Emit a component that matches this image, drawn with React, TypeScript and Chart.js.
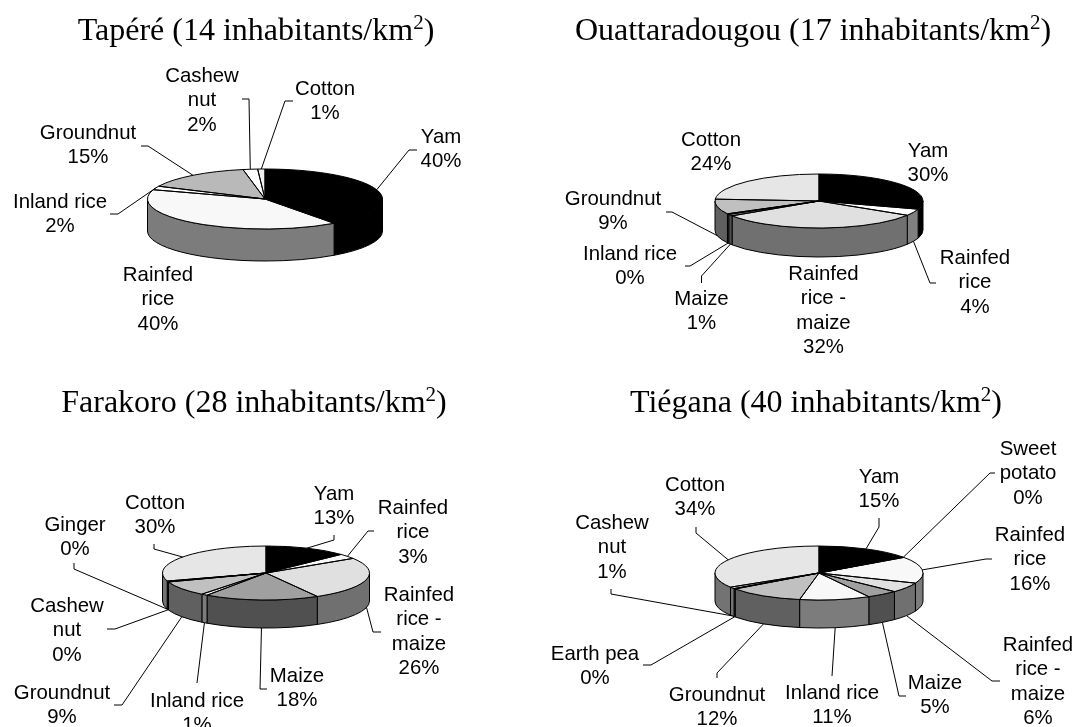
import React, { useEffect, useRef } from "react";
import { Chart, registerables } from "chart.js";

Chart.register(...registerables);

// ---- data ----
const tapereLabels = ["Yam", "Rainfed\nrice", "Inland rice", "Groundnut", "Cashew\nnut", "Cotton"];
const tapereValues = [40, 40, 2, 15, 2, 1];
const tapereColors = ["#000000", "#f8f8f8", "#ffffff", "#b9b9b9", "#ffffff", "#f0f0f0"];

const ouattLabels = ["Yam", "Rainfed\nrice", "Rainfed\nrice -\nmaize", "Maize", "Inland rice", "Groundnut", "Cotton"];
const ouattValues = [30, 4, 32, 1, 0.4, 9, 24];
const ouattColors = ["#000000", "#ffffff", "#e0e0e0", "#9a9a9a", "#f0f0f0", "#c0c0c0", "#e6e6e6"];

const farakoroLabels = ["Yam", "Rainfed\nrice", "Rainfed\nrice -\nmaize", "Maize", "Inland rice", "Groundnut", "Cashew\nnut", "Ginger", "Cotton"];
const farakoroValues = [13, 3, 26, 18, 1, 9, 0.3, 0.3, 30];
const farakoroColors = ["#000000", "#f8f8f8", "#e0e0e0", "#a0a0a0", "#f8f8f8", "#c0c0c0", "#eeeeee", "#999999", "#e6e6e6"];

const tieganaLabels = ["Yam", "Sweet\npotato", "Rainfed\nrice", "Rainfed\nrice -\nmaize", "Maize", "Inland rice", "Groundnut", "Earth pea", "Cashew\nnut", "Cotton"];
const tieganaValues = [15, 0.3, 16, 6, 5, 11, 12, 0.3, 1, 34];
const tieganaColors = ["#000000", "#555555", "#f8f8f8", "#e0e0e0", "#a0a0a0", "#f8f8f8", "#c0c0c0", "#999999", "#e6e6e6", "#e6e6e6"];

// ---- layout (page pixels): label centre [x, first-line y], optional leader [elbowX, elbowY, endX, endY] ----
type Place = { at: [number, number]; leader?: [number, number, number, number] };

const panels = [
  {
    title: "Tapéré (14 inhabitants/km", titleX: 256, titleY: 40,
    box: [0, 0, 530, 364], cx: 265, cy: 199, rx: 117.5, ry: 30, depth: 32,
    labels: tapereLabels, values: tapereValues, colors: tapereColors,
    places: [
      { at: [441, 137], leader: [409, 150, 417, 150] },
      { at: [158, 275] },
      { at: [60, 202], leader: [118, 214, 110, 214] },
      { at: [88, 133], leader: [148, 146, 141, 146] },
      { at: [202, 76], leader: [249, 99, 242, 99] },
      { at: [325, 89], leader: [285, 101, 293, 101] },
    ] as Place[],
  },
  {
    title: "Ouattaradougou (17 inhabitants/km", titleX: 813, titleY: 40,
    box: [530, 0, 547, 364], cx: 819, cy: 201, rx: 104, ry: 27, depth: 29,
    labels: ouattLabels, values: ouattValues, colors: ouattColors,
    places: [
      { at: [928, 151] },
      { at: [975, 258], leader: [930, 283, 936, 283] },
      { at: [823.5, 274] },
      { at: [701.5, 299], leader: [701.5, 276, 701.5, 283] },
      { at: [630, 254], leader: [690, 266, 685, 266] },
      { at: [613, 199], leader: [672, 212, 666, 212] },
      { at: [711, 140] },
    ] as Place[],
  },
  {
    title: "Farakoro (28 inhabitants/km", titleX: 254, titleY: 412,
    box: [0, 364, 530, 363], cx: 266, cy: 573, rx: 103.5, ry: 27, depth: 28,
    labels: farakoroLabels, values: farakoroValues, colors: farakoroColors,
    places: [
      { at: [334, 494], leader: [334, 540, 334, 535] },
      { at: [413, 508], leader: [368, 531, 374, 531] },
      { at: [419, 595], leader: [373, 632, 381, 632] },
      { at: [297, 676], leader: [260, 689, 267, 689] },
      { at: [197, 701], leader: [197, 683, 197, 683] },
      { at: [62, 693], leader: [122, 705, 114, 705] },
      { at: [67, 606], leader: [115, 629, 107, 629] },
      { at: [75, 525], leader: [74, 569, 74, 563] },
      { at: [155, 503], leader: [154, 549, 154, 544] },
    ] as Place[],
  },
  {
    title: "Tiégana (40 inhabitants/km", titleX: 816, titleY: 412,
    box: [530, 364, 547, 363], cx: 819, cy: 573, rx: 104, ry: 27, depth: 28,
    labels: tieganaLabels, values: tieganaValues, colors: tieganaColors,
    places: [
      { at: [879, 477], leader: [879, 527, 879, 518] },
      { at: [1028, 449], leader: [990, 473, 995, 473] },
      { at: [1030, 535], leader: [986, 559, 992, 559] },
      { at: [1038, 645], leader: [992, 681, 1000, 681] },
      { at: [935, 683], leader: [899, 696, 906, 696] },
      { at: [832, 693], leader: [832, 676, 832, 676] },
      { at: [717, 695], leader: [717, 673, 717, 678] },
      { at: [595, 654], leader: [651, 665, 643, 665] },
      { at: [612, 523], leader: [611, 594, 611, 589] },
      { at: [695, 485], leader: [696, 533, 696, 527] },
    ] as Place[],
  },
];

const LABEL_FONT = '20.4px "Liberation Sans"';
const TITLE_FONT = '32px "Liberation Serif"';
const SUP_FONT = '21px "Liberation Serif"';
const LINE_H = 24.5;

function darker(hex: string) {
  const n = parseInt(hex.slice(1), 16);
  const h = (v: number) => Math.round(v / 2).toString(16).padStart(2, "0");
  return "#" + h((n >> 16) & 255) + h((n >> 8) & 255) + h(n & 255);
}

type Panel = (typeof panels)[number];

function pie3d(p: Panel) {
  const [ox, oy] = p.box;
  const cx = p.cx - ox;
  const cy = p.cy - oy;
  return {
    id: "pie3d",
    beforeDatasetsDraw(chart: any) {
      const ctx = chart.ctx;
      const arcs = chart.getDatasetMeta(0).data;
      const midY = arcs[0].y;
      // side walls, front half only
      arcs.forEach((a: any, i: number) => {
        const s = Math.max(a.startAngle, 0);
        const e = Math.min(a.endAngle, Math.PI);
        if (e <= s) return;
        ctx.beginPath();
        ctx.ellipse(cx, cy, p.rx, p.ry, 0, s, e);
        ctx.lineTo(cx + p.rx * Math.cos(e), cy + p.ry * Math.sin(e) + p.depth);
        ctx.ellipse(cx, cy + p.depth, p.rx, p.ry, 0, e, s, true);
        ctx.closePath();
        ctx.fillStyle = darker(p.colors[i]);
        ctx.fill();
        ctx.strokeStyle = "#000";
        ctx.lineWidth = 1;
        ctx.stroke();
      });
      // flatten the library's own arcs
      ctx.save();
      ctx.translate(0, cy);
      ctx.scale(1, p.ry / p.rx);
      ctx.translate(0, -midY);
    },
    afterDatasetsDraw(chart: any) {
      const ctx = chart.ctx;
      ctx.restore();
      const arcs = chart.getDatasetMeta(0).data;
      ctx.strokeStyle = "#000";
      ctx.lineWidth = 1;
      arcs.forEach((a: any) => {
        ctx.beginPath();
        ctx.moveTo(cx, cy);
        ctx.ellipse(cx, cy, p.rx, p.ry, 0, a.startAngle, a.endAngle);
        ctx.closePath();
        ctx.stroke();
      });
      // leaders and labels
      ctx.fillStyle = "#000";
      ctx.textAlign = "center";
      ctx.textBaseline = "middle";
      ctx.font = LABEL_FONT;
      arcs.forEach((a: any, i: number) => {
        const place = p.places[i];
        if (place.leader) {
          const mid = (a.startAngle + a.endAngle) / 2;
          const sx = cx + p.rx * Math.cos(mid);
          let sy = cy + p.ry * Math.sin(mid);
          if (Math.sin(mid) > 0) sy += p.depth;
          const [ex, ey, fx, fy] = place.leader;
          ctx.beginPath();
          ctx.moveTo(sx, sy);
          ctx.lineTo(ex - ox, ey - oy);
          ctx.lineTo(fx - ox, fy - oy);
          ctx.stroke();
        }
        const lines = [...p.labels[i].split("\n"), Math.round(p.values[i]) + "%"];
        lines.forEach((t, k) => ctx.fillText(t, place.at[0] - ox, place.at[1] - oy + k * LINE_H));
      });
      // title with superscript
      ctx.textAlign = "left";
      ctx.textBaseline = "alphabetic";
      ctx.font = TITLE_FONT;
      const w1 = ctx.measureText(p.title).width;
      const w3 = ctx.measureText(")").width;
      ctx.font = SUP_FONT;
      const w2 = ctx.measureText("2").width;
      let x = p.titleX - ox - (w1 + w2 + w3) / 2;
      const y = p.titleY - oy;
      ctx.font = TITLE_FONT;
      ctx.fillText(p.title, x, y);
      x += w1;
      ctx.font = SUP_FONT;
      ctx.fillText("2", x, y - 11);
      x += w2;
      ctx.font = TITLE_FONT;
      ctx.fillText(")", x, y);
    },
  };
}

function PieCanvas({ panel }: { panel: Panel }) {
  const ref = useRef<HTMLCanvasElement>(null);
  useEffect(() => {
    const [ox, oy, w, h] = panel.box;
    const chart = new Chart(ref.current!, {
      type: "pie",
      data: {
        labels: panel.labels.map((l) => l.replace(/\n/g, " ")),
        datasets: [{ data: panel.values, backgroundColor: panel.colors, borderWidth: 0 }],
      },
      options: {
        responsive: false,
        animation: false,
        events: [],
        layout: {
          padding: {
            left: panel.cx - ox - panel.rx,
            right: w - (panel.cx - ox) - panel.rx,
            top: (h - 2 * panel.rx) / 2,
            bottom: (h - 2 * panel.rx) / 2,
          },
        },
        plugins: { legend: { display: false }, tooltip: { enabled: false }, title: { display: false } },
      },
      plugins: [pie3d(panel)],
    } as any);
    return () => chart.destroy();
  }, [panel]);
  const [ox, oy, w, h] = panel.box;
  return (
    <canvas
      ref={ref}
      width={w}
      height={h}
      style={{ position: "absolute", left: ox, top: oy, width: w, height: h }}
    />
  );
}

export default function App() {
  return (
    <div style={{ position: "absolute", left: 0, top: 0, width: 1077, height: 727, overflow: "hidden", background: "#fff" }}>
      {panels.map((p) => (
        <PieCanvas key={p.title} panel={p} />
      ))}
    </div>
  );
}
